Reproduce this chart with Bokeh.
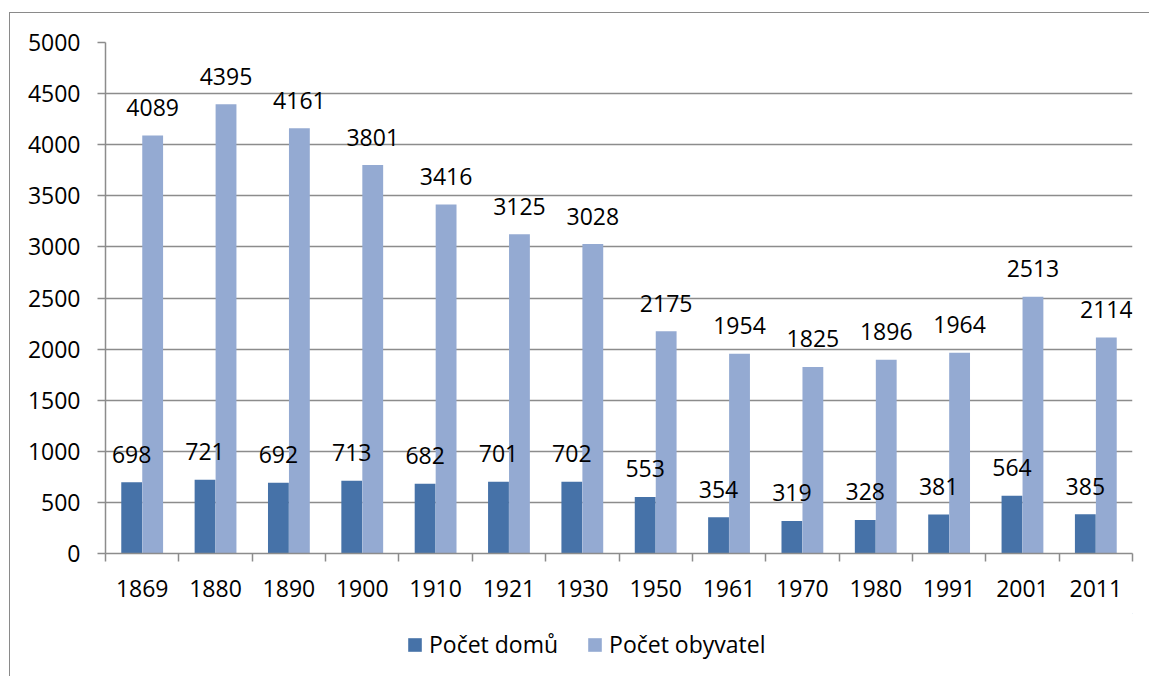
from bokeh.plotting import figure
from bokeh.models import ColumnDataSource, FixedTicker, Legend, LegendItem, Range1d
from bokeh.layouts import column
from bokeh.core.properties import value
from bokeh.embed import file_html
from bokeh.resources import INLINE

years = ["1869", "1880", "1890", "1900", "1910", "1921", "1930", "1950",
         "1961", "1970", "1980", "1991", "2001", "2011"]
domy = [698, 721, 692, 713, 682, 701, 702, 553, 354, 319, 328, 381, 564, 385]
obyvatele = [4089, 4395, 4161, 3801, 3416, 3125, 3028, 2175, 1954, 1825, 1896, 1964, 2513, 2114]
series_names = ["Počet domů", "Počet obyvatel"]
y_ticks = list(range(0, 5001, 500))

DARK = "#4672A8"
LIGHT = "#94AAD2"
GRID = "#8C8C8C"
FONT = "Open Sans"
FS = "23px"

idx = list(range(1, len(years) + 1))
src = ColumnDataSource(dict(
    x_d=[i - 0.143 for i in idx],
    x_o=[i + 0.143 for i in idx],
    domy=domy, obyv=obyvatele,
    domy_t=[str(v) for v in domy], obyv_t=[str(v) for v in obyvatele],
))

p = figure(width=1139, height=600, output_backend="svg", toolbar_location=None,
           x_range=Range1d(0.5, len(years) + 0.5), y_range=Range1d(0, 5000),
           min_border_left=95, min_border_right=17, min_border_top=29, min_border_bottom=60)
p.outline_line_color = None
p.background_fill_color = "white"
p.border_fill_color = "white"

r1 = p.vbar(x="x_d", top="domy", width=0.284, source=src, fill_color=DARK, line_color=None)
r2 = p.vbar(x="x_o", top="obyv", width=0.284, source=src, fill_color=LIGHT, line_color=None)

for xcol, ycol, tcol in [("x_d", "domy", "domy_t"), ("x_o", "obyv", "obyv_t")]:
    p.text(x=xcol, y=ycol, text=tcol, source=src, text_font=value(FONT),
           text_font_size=FS, text_color="black", text_align="center",
           text_baseline="alphabetic", y_offset=-28)

# y axis
p.yaxis.ticker = FixedTicker(ticks=y_ticks)
p.yaxis.axis_line_color = GRID
p.yaxis.axis_line_width = 1.5
p.yaxis.major_tick_line_color = GRID
p.yaxis.major_tick_line_width = 1.5
p.yaxis.major_tick_out = 8
p.yaxis.major_tick_in = 0
p.yaxis.minor_tick_line_color = None
p.yaxis.major_label_text_font = FONT
p.yaxis.major_label_text_font_size = FS
p.yaxis.major_label_text_color = "black"
p.yaxis.major_label_standoff = 17

p.ygrid.grid_line_color = GRID
p.ygrid.grid_line_width = 1.5
p.xgrid.grid_line_color = None

# x axis: labels at category centres, tick marks at category boundaries
p.xaxis.ticker = FixedTicker(ticks=idx, minor_ticks=[i + 0.5 for i in range(0, len(years) + 1)])
p.xaxis.major_label_overrides = {i: y for i, y in zip(idx, years)}
p.xaxis.major_tick_line_color = None
p.xaxis.minor_tick_line_color = GRID
p.xaxis.minor_tick_line_width = 1.5
p.xaxis.minor_tick_out = 8
p.xaxis.minor_tick_in = 0
p.xaxis.axis_line_color = GRID
p.xaxis.axis_line_width = 1.5
p.xaxis.major_label_text_font = FONT
p.xaxis.major_label_text_font_size = FS
p.xaxis.major_label_text_color = "black"
p.xaxis.major_label_standoff = 18

# legend strip below the chart (swatches reuse the bar glyphs' styling)
lp = figure(width=1139, height=63, output_backend="svg", toolbar_location=None,
            x_range=Range1d(0, 1), y_range=Range1d(0, 1),
            x_axis_type=None, y_axis_type=None,
            min_border_left=0, min_border_right=0, min_border_top=0, min_border_bottom=0)
lp.outline_line_color = None
lp.xgrid.grid_line_color = None
lp.ygrid.grid_line_color = None
lr1 = lp.vbar(x=[5], top=[5], bottom=[4], width=0.1, fill_color=DARK, line_color=None)
lr2 = lp.vbar(x=[5], top=[5], bottom=[4], width=0.1, fill_color=LIGHT, line_color=None)
legend = Legend(items=[LegendItem(label=series_names[0], renderers=[lr1]),
                       LegendItem(label=series_names[1], renderers=[lr2])],
                orientation="horizontal", location=(301, 16))
legend.glyph_width = 17
legend.glyph_height = 17
legend.label_standoff = 6
legend.spacing = 28
legend.label_text_font = FONT
legend.label_text_font_size = FS
legend.label_text_color = "black"
legend.border_line_color = None
legend.background_fill_alpha = 0
legend.margin = 0
legend.padding = 4
lp.add_layout(legend, "center")

layout = column(p, lp, spacing=0)
layout.styles = {"border-left": "1px solid #8a8a8a", "border-top": "1px solid #8a8a8a",
                 "margin-top": "12px", "margin-left": "9px"}

open("out.html", "w").write(file_html(layout, INLINE))
